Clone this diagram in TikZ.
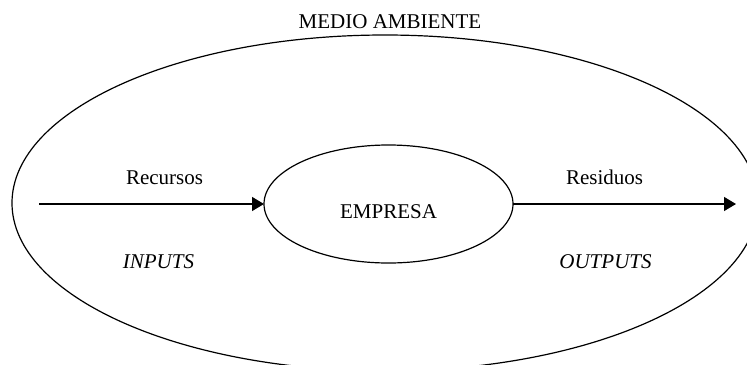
\documentclass[tikz,border=0pt]{standalone}
\usepackage{fontspec}
\setmainfont{Liberation Serif}
\usetikzlibrary{shapes.geometric,arrows.meta}
\begin{document}
\begin{tikzpicture}[x=0.5pt,y=-0.5pt,
  line width=0.6pt,
  lbl/.style={anchor=base,inner sep=0pt,font=\fontsize{10.5}{12.6}\selectfont},
  oval/.style={draw,ellipse,inner sep=0pt,outer sep=0pt},
  arr/.style={-{Triangle[length=6pt,width=7pt]}}]
\useasboundingbox (0,0) rectangle (747,364);
\clip (0,0) rectangle (747,364);
\node[oval,minimum width=373pt,minimum height=168pt] (medio) at (385,203) {};
\node[oval,minimum width=124.5pt,minimum height=59pt] (empresa) at (388.5,204) {};
\node[lbl] (empresaT) at (388.5,218) {EMPRESA};
\node[lbl] (titulo) at (390,28) {MEDIO AMBIENTE};
\node[lbl] (recursos) at (164.5,184) {Recursos};
\node[lbl] (residuos) at (604.5,184) {Residuos};
\node[lbl] (inputs) at (158.5,268) {\itshape INPUTS};
\node[lbl] (outputs) at (605.5,268) {\itshape OUTPUTS};
\coordinate (inS) at (39,204);
\coordinate (outE) at (736,204);
\draw[arr] (inS) -- (empresa.west);
\draw[arr] (empresa.east) -- (outE);
\end{tikzpicture}
\end{document}
